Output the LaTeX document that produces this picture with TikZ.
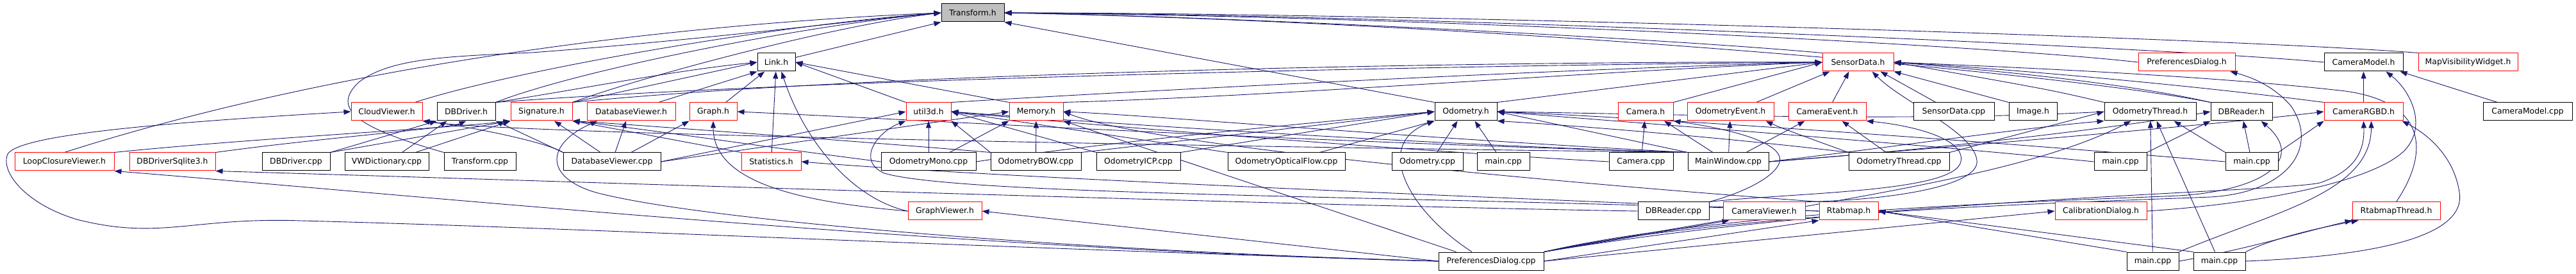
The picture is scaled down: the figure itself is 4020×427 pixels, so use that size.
\documentclass[tikz,border=0pt]{standalone}
\usepackage{fontspec}
\setmainfont{DejaVu Sans}
\usetikzlibrary{arrows.meta}
\definecolor{edgec}{HTML}{191970}
\definecolor{tgray}{HTML}{BFBFBF}
\definecolor{nred}{HTML}{FF0000}
\pgfdeclarelayer{background}
\pgfsetlayers{background,main}
\tikzset{
  nd/.style={draw=black, fill=white, line width=1pt, inner sep=0pt, minimum height=28,
    font=\fontsize{12.4}{14}\selectfont, text=black},
  ndr/.style={nd, draw=nred},
  dep/.style={draw=edgec, line width=0.9pt, -{Triangle[length=11pt,width=8pt]}},
}
\begin{document}
\begin{tikzpicture}[x=1pt,y=-1pt]
\useasboundingbox (0,0) rectangle (4020,427);
% row 1
\node[nd,fill=tgray,minimum width=98] (T) at (1518,20) {Transform.h};
% row 2
\node[nd,minimum width=59] (L) at (1211.5,97) {Link.h};
\node[ndr,minimum width=111] (SD) at (2899.5,97) {SensorData.h};
\node[ndr,minimum width=151] (PDh) at (3412.5,97) {PreferencesDialog.h};
\node[nd,minimum width=123] (CMh) at (3688.5,97) {CameraModel.h};
\node[ndr,minimum width=155] (MVW) at (3851.5,97) {MapVisibilityWidget.h};
% row 3
\node[ndr,minimum width=111] (CV) at (603.5,174) {CloudViewer.h};
\node[nd,minimum width=91] (DBD) at (727.5,174) {DBDriver.h};
\node[ndr,minimum width=96] (Sig) at (845,174) {Signature.h};
\node[ndr,minimum width=138] (DVh) at (985,174) {DatabaseViewer.h};
\node[ndr,minimum width=74] (G) at (1113,174) {Graph.h};
\node[ndr,minimum width=70] (U3) at (1449,174) {util3d.h};
\node[ndr,minimum width=84] (Mem) at (1617,174) {Memory.h};
\node[nd,minimum width=97] (Odo) at (2287.5,174) {Odometry.h};
\node[ndr,minimum width=86] (Cam) at (2568,174) {Camera.h};
\node[ndr,minimum width=135] (OE) at (2700.5,174) {OdometryEvent.h};
\node[ndr,minimum width=121] (CE) at (2851.5,174) {CameraEvent.h};
\node[nd,minimum width=126] (SDcpp) at (3049,174) {SensorData.cpp};
\node[nd,minimum width=75] (Img) at (3172.5,174) {Image.h};
\node[nd,minimum width=143] (OTh) at (3355.5,174) {OdometryThread.h};
\node[nd,minimum width=96] (DBR) at (3498,174) {DBReader.h};
\node[ndr,minimum width=123] (CRGBD) at (3688.5,174) {CameraRGBD.h};
\node[nd,minimum width=139] (CMcpp) at (3944.5,174) {CameraModel.cpp};
% row 4
\node[ndr,minimum width=155] (LCV) at (100.5,252) {LoopClosureViewer.h};
\node[ndr,minimum width=134] (DBS) at (269,252) {DBDriverSqlite3.h};
\node[nd,minimum width=106] (DBDcpp) at (462,252) {DBDriver.cpp};
\node[nd,minimum width=131] (VWD) at (603.5,252) {VWDictionary.cpp};
\node[nd,minimum width=112] (Tcpp) at (749,252) {Transform.cpp};
\node[nd,minimum width=152] (DVcpp) at (955,252) {DatabaseViewer.cpp};
\node[ndr,minimum width=93] (Stat) at (1203.5,252) {Statistics.h};
\node[nd,minimum width=148] (OMono) at (1449,252) {OdometryMono.cpp};
\node[nd,minimum width=141] (OBOW) at (1616.5,252) {OdometryBOW.cpp};
\node[nd,minimum width=131] (OICP) at (1776.5,252) {OdometryICP.cpp};
\node[nd,minimum width=183] (OOF) at (2007.5,252) {OdometryOpticalFlow.cpp};
\node[nd,minimum width=111] (Ocpp) at (2227.5,252) {Odometry.cpp};
\node[nd,minimum width=82] (m1) at (2346,252) {main.cpp};
\node[nd,minimum width=100] (Camcpp) at (2561,252) {Camera.cpp};
\node[nd,minimum width=126] (MW) at (2697,252) {MainWindow.cpp};
\node[nd,minimum width=157] (OTcpp) at (2963.5,252) {OdometryThread.cpp};
\node[nd,minimum width=82] (m2) at (3309,252) {main.cpp};
\node[nd,minimum width=82] (m3) at (3514,252) {main.cpp};
% row 5
\node[ndr,minimum width=115] (GV) at (1474.5,329) {GraphViewer.h};
\node[nd,minimum width=111] (DBRcpp) at (2611.5,329) {DBReader.cpp};
\node[ndr,minimum width=128] (CVw) at (2753,329) {CameraViewer.h};
\node[ndr,minimum width=92] (Rtab) at (2885,329) {Rtabmap.h};
\node[ndr,minimum width=143] (Cal) at (3278.5,329) {CalibrationDialog.h};
\node[ndr,minimum width=137] (RT) at (3739.5,329) {RtabmapThread.h};
% row 6
\node[nd,minimum width=164] (PDcpp) at (2327,407) {PreferencesDialog.cpp};
\node[nd,minimum width=81] (m4) at (3359.5,407) {main.cpp};
\node[nd,minimum width=81] (m5) at (3463.5,407) {main.cpp};

\begin{pgfonlayer}{background}
\fill[white] (0,0) rectangle (4020,427);
% --- Transform.h
\draw[dep] ([yshift=-7]L.north east) -- (T.south west);
\draw[dep] (LCV.north) .. controls (500,110) and (1000,40) .. (T.west);
\draw[dep] (Tcpp.north west) .. controls (560,200) and (515,170) .. (560,128) .. controls (610,90) and (700,88) .. (830,82) .. controls (1100,62) and (1350,30) .. (T.west);
\draw[dep] ([xshift=-12]CV.north east) .. controls (800,110) and (1200,40) .. (T.west);
\draw[dep] (DBD.north east) .. controls (900,110) and (1250,40) .. (T.west);
\draw[dep] (Sig.north east) .. controls (1000,120) and (1300,40) .. (T.west);
\draw[dep] (SD.north west) .. controls (2600,60) and (1900,25) .. (T.east);
\draw[dep] (Odo.north west) -- (T.south east);
\draw[dep] (MVW.north west) .. controls (3500,60) and (2200,20) .. (T.east);
\draw[dep] (CMh.west) .. controls (3400,75) and (2200,22) .. (T.east);
\draw[dep] (PDh.west) .. controls (3100,70) and (2200,25) .. (T.east);
\draw[dep] (DBR.north west) .. controls (3200,110) and (2300,35) .. (T.east);
% --- Link.h
\draw[dep] (Sig.north east) -- (L.west);
\draw[dep] (DBD.north east) .. controls (900,140) and (1050,110) .. (L.west);
\draw[dep] ([xshift=-27]DVh.north east) -- (L.south west);
\draw[dep] ([xshift=-18]G.north east) -- (L);
\draw[dep] (U3.north west) -- (L.east);
\draw[dep] (Mem.north west) -- (L.east);
\draw[dep] (Stat) -- (L);
\draw[dep] (GV.west) .. controls (1330,310) and (1255,220) .. ([xshift=8]L.south);
% --- SensorData.h
\draw[dep] (Sig.north east) .. controls (1400,110) and (2400,95) .. (SD.west);
\draw[dep] (DBD.north east) .. controls (1300,120) and (2400,100) .. (SD.west);
\draw[dep] (Mem.north east) .. controls (2000,150) and (2500,110) .. (SD.west);
\draw[dep] (U3.north east) .. controls (1800,140) and (2500,105) .. (SD.west);
\draw[dep] (Odo.north east) -- (SD.west);
\draw[dep] (Cam.north east) -- (SD.west);
\draw[dep] ([xshift=40]OE.north) -- ([xshift=-44]SD.south);
\draw[dep] ([xshift=8]CE.north) -- ([xshift=-14]SD.south);
\draw[dep] ([xshift=-28]SDcpp.north) -- ([xshift=35]SD.south);
\draw[dep] (Img.north west) -- (SD.south east);
\draw[dep] (OTh.north west) .. controls (3200,140) .. (SD.east);
\draw[dep] (DBR.north west) .. controls (3300,125) and (3050,105) .. (SD.east);
\draw[dep] (CRGBD.north west) .. controls (3400,130) and (3100,105) .. (SD.east);
\draw[dep] (RT.north) .. controls (3790,240) and (3790,160) .. (3660,142) .. controls (3450,118) and (3150,105) .. (SD.east);
\draw[dep] (CVw.north east) .. controls (2950,312) and (3090,290) .. (3085,250) .. controls (3080,205) and (2970,160) .. ([xshift=22]SD.south);
% --- CameraModel.h
\draw[dep] (CRGBD) -- (CMh);
\draw[dep] ([xshift=-47]CMcpp.north) -- ([xshift=-5]CMh.south east);
\draw[dep] (Cal.east) .. controls (3520,318) and (3700,285) .. (3752,235) .. controls (3790,195) and (3760,140) .. ([xshift=35]CMh.south);
% --- PreferencesDialog.h
\draw[dep] (PDcpp.north east) .. controls (2700,330) and (3250,315) .. (3450,307) .. controls (3570,300) and (3620,230) .. (3575,165) .. controls (3545,130) and (3505,118) .. ([xshift=-8]PDh.south east);
% --- CloudViewer.h
\draw[dep] (PDcpp.west) .. controls (1500,385) and (900,355) .. (470,344) .. controls (300,338) and (250,375) .. (120,342) .. controls (40,318) and (0,268) .. (12,240) .. controls (30,212) and (220,193) .. (CV.west);
\draw[dep] (DVcpp.north west) .. controls (850,220) and (720,195) .. (CV.south east);
\draw[dep] (MW.north west) .. controls (2000,230) and (800,210) .. (CV.south east);
% --- DBDriver.h
\draw[dep] (DBDcpp.north east) -- (DBD.south west);
\draw[dep] ([xshift=24]VWD.north) -- ([xshift=-30]DBD.south);
\draw[dep] (DVcpp.north west) -- (DBD.south east);
\draw[dep] (DBS.north east) .. controls (500,215) and (700,200) .. (DBD.south);
% --- Signature.h
\draw[dep] ([xshift=45]VWD.north) -- (Sig.south west);
\draw[dep] (DBDcpp.north east) -- (Sig.south west);
\draw[dep] ([xshift=-18]DVcpp.north) -- ([xshift=20]Sig.south);
\draw[dep] (LCV.north east) .. controls (400,215) and (700,200) .. (Sig.south west);
\draw[dep] (Stat.north west) -- (Sig.south east);
\draw[dep] (OMono.west) .. controls (1200,230) and (1000,200) .. (Sig.south east);
\draw[dep] (OBOW.north west) .. controls (1400,225) and (1000,195) .. (Sig.south east);
% --- DatabaseViewer.h
\draw[dep] ([xshift=5]DVcpp.north) -- ([xshift=-8]DVh.south);
\draw[dep] (PDcpp.west) .. controls (1700,392) and (1100,345) .. (930,300) .. controls (845,275) and (855,222) .. ([xshift=17]DVh.south west);
% --- Graph.h
\draw[dep] ([xshift=30]DVcpp.north) -- (G.south west);
\draw[dep] (GV.west) .. controls (1250,315) and (1113,285) .. (G.south);
\draw[dep] (MW.north west) .. controls (2000,220) and (1400,185) .. (G.east);
% --- util3d.h
\draw[dep] (DVcpp.east) -- (U3.west);
\draw[dep] (OMono) -- (U3);
\draw[dep] (OBOW.north west) -- (U3.south east);
\draw[dep] (OICP.north west) -- (U3.east);
\draw[dep] (OOF.north west) -- (U3.east);
\draw[dep] (Camcpp.west) .. controls (2200,235) and (1700,195) .. (U3.east);
\draw[dep] (MW.north west) .. controls (2200,225) and (1700,190) .. (U3.east);
\draw[dep] (Rtab.west) .. controls (2200,305) and (1500,305) .. (1380,270) .. controls (1335,250) and (1370,205) .. (U3.south west);
% --- Memory.h
\draw[dep] (DVcpp.east) -- (Mem.west);
\draw[dep] ([xshift=33]OMono.north) -- (Mem.south west);
\draw[dep] (OBOW) -- (Mem);
\draw[dep] (MW.north west) .. controls (2200,215) and (1800,180) .. (Mem.east);
\draw[dep] ([xshift=28]PDcpp.north west) -- (Mem.south east);
% --- Odometry.h
\draw[dep] (OMono.east) .. controls (1700,225) and (2000,195) .. (Odo.west);
\draw[dep] (OBOW.north east) -- (Odo.west);
\draw[dep] (OICP.north east) -- (Odo.west);
\draw[dep] ([xshift=-40]OOF.north east) -- (Odo.south west);
\draw[dep] ([xshift=15]Ocpp.north) -- ([xshift=-13]Odo.south);
\draw[dep] ([xshift=-11]m1.north) -- ([xshift=14]Odo.south);
\draw[dep] (OTcpp.north west) .. controls (2700,215) and (2450,195) .. (Odo.south east);
\draw[dep] (MW.north west) -- (Odo.east);
\draw[dep] ([xshift=-30]PDcpp.north) .. controls (2200,330) and (2140,225) .. (Odo.south west);
\draw[dep] (m2.west) .. controls (3000,225) and (2600,195) .. (Odo.east);
\draw[dep] (m3.west) .. controls (3100,220) and (2600,185) .. (Odo.east);
\draw[dep] (OTh.west) .. controls (3000,190) and (2600,178) .. (Odo.east);
% --- Camera.h
\draw[dep] (Camcpp) -- (Cam);
\draw[dep] ([xshift=-24]MW.north) -- ([xshift=29]Cam.south);
\draw[dep] (DBRcpp.north east) .. controls (2740,295) and (2790,262) .. (2775,240) .. controls (2760,215) and (2680,198) .. (Cam.south east);
% --- OdometryEvent.h
\draw[dep] (MW) -- (OE);
\draw[dep] (OTcpp.north west) .. controls (2850,225) and (2780,200) .. ([xshift=-13]OE.south east);
% --- CameraEvent.h
\draw[dep] ([xshift=28]MW.north) -- ([xshift=-35]CE.south);
\draw[dep] ([xshift=-20]OTcpp.north) -- ([xshift=23]CE.south);
\draw[dep] (DBRcpp.north east) .. controls (2800,300) and (3050,300) .. (3060,252) .. controls (3068,215) and (2980,195) .. (CE.south east);
% --- OdometryThread.h
\draw[dep] (m4) -- (OTh);
\draw[dep] ([xshift=-7]m5.north) -- ([xshift=10]OTh.south);
\draw[dep] (m3.north west) -- ([xshift=37]OTh.south);
\draw[dep] (OTcpp.north east) -- (OTh.west);
\draw[dep] (MW.east) .. controls (2950,230) and (3150,200) .. (OTh.south west);
\draw[dep] (PDcpp.north east) .. controls (2800,320) and (3150,280) .. ([xshift=-30]OTh.south);
% --- DBReader.h
\draw[dep] (m2.north east) -- (DBR.south west);
\draw[dep] (m3) -- (DBR);
\draw[dep] (PDcpp.north east) .. controls (2700,325) and (3250,312) .. (3400,305) .. controls (3530,297) and (3600,250) .. ([xshift=-18]DBR.south east);
\draw[dep] (MW.east) .. controls (3000,235) and (3300,200) .. (DBR.west);
% --- CameraRGBD.h
\draw[dep] (m3.north east) -- (CRGBD.south west);
\draw[dep] (m4.north east) .. controls (3550,330) and (3700,300) .. ([xshift=12]CRGBD.south);
\draw[dep] (m5.east) .. controls (3680,400) and (3850,375) .. (3838,300) .. controls (3830,245) and (3790,210) .. ([xshift=-2]CRGBD.south east);
\draw[dep] (PDcpp.north east) .. controls (2900,310) and (3550,300) .. (3620,285) .. controls (3680,265) and (3690,230) .. (CRGBD.south);
\draw[dep] (MW.east) .. controls (3100,225) and (3500,190) .. (CRGBD.west);
% --- GUI headers
\draw[dep] (PDcpp.west) -- (GV.east);
\draw[dep] (PDcpp.north east) -- ([xshift=10]CVw.south west);
\draw[dep] (m4.north west) -- (Rtab.east);
\draw[dep] (m5.north west) -- (Rtab.east);
\draw[dep] (PDcpp.east) -- (Rtab.south west);
\draw[dep] (PDcpp.east) -- (Cal.west);
\draw[dep] (m4.east) .. controls (3500,390) and (3600,360) .. (RT.south west);
\draw[dep] (m5.north east) .. controls (3550,370) and (3620,355) .. ([xshift=10]RT.south west);
\draw[dep] (PDcpp.west) .. controls (1500,390) and (600,300) .. (LCV.south east);
\draw[dep] (DBRcpp.west) .. controls (2000,320) and (800,280) .. (DBS.south east);
\draw[dep] (Rtab.west) .. controls (2400,310) and (1600,280) .. (Stat.east);
\draw[dep] (Rtab.north west) .. controls (2500,290) and (1800,230) .. (Mem.east);
\end{pgfonlayer}
\end{tikzpicture}
\end{document}
